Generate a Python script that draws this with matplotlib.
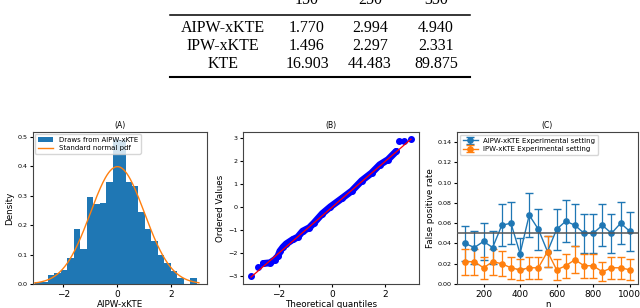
#!/usr/bin/env python3
"""
plot.py — timing table on top, three diagnostic panels below:
  (A) histogram of AIPW-xKTE draws vs standard normal pdf
  (B) normal Q-Q plot of the same draws
  (C) false positive rate vs n for AIPW-/IPW-xKTE
"""

import numpy as np
import matplotlib
matplotlib.use("Agg")
import matplotlib.pyplot as plt
import matplotlib.lines as mlines

# ── table ─────────────────────────────────────────────────────────────────────
TABLE_COLS = ["150", "250", "350"]
TABLE_ROWS = ["AIPW-xKTE", "IPW-xKTE", "KTE"]
TABLE_VALS = [["1.770", "2.994", "4.940"],
              ["1.496", "2.297", "2.331"],
              ["16.903", "44.483", "89.875"]]

# ── (A) histogram (density per bin) ───────────────────────────────────────────
HIST_RANGE = (-3.06, 2.94)
HIST_DENSITY = [0.008, 0.008, 0.030, 0.038, 0.047, 0.089, 0.187, 0.118,
                0.294, 0.272, 0.276, 0.345, 0.492, 0.490, 0.345, 0.333,
                0.245, 0.187, 0.147, 0.098, 0.072, 0.043, 0.022, 0.0,
                0.022]
PDF_RANGE = (-3.09, 3.02)

# ── (B) Q-Q plot ──────────────────────────────────────────────────────────────
QQ_THEORETICAL = [-3.05, -2.77, -2.58, -2.33, -2.15, -2.03, -1.96, -1.84,
                  -1.72, -1.47, -1.29, -1.10, -0.85, -0.67, -0.36, -0.05,
                  0.39, 0.76, 1.13, 1.50, 1.81, 2.12, 2.43,
                  2.55, 2.71, 2.99]
QQ_ORDERED = [-3.00, -2.61, -2.45, -2.42, -2.28, -2.13, -1.92, -1.74,
              -1.60, -1.41, -1.31, -1.05, -0.90, -0.69, -0.29, 0.01,
              0.38, 0.70, 1.14, 1.47, 1.83, 2.05, 2.41,
              2.84, 2.88, 2.95]
QQ_SLOPE = 0.99
QQ_INTERCEPT = -0.02

# ── (C) false positive rate ───────────────────────────────────────────────────
N_VALUES = [100, 150, 200, 250, 300, 350, 400, 450, 500, 550,
            600, 650, 700, 750, 800, 850, 900, 950, 1000]
AIPW_FPR = [0.040, 0.036, 0.042, 0.036, 0.058, 0.060, 0.030, 0.068, 0.054, 0.032,
            0.054, 0.062, 0.058, 0.050, 0.050, 0.058, 0.050, 0.060, 0.052]
AIPW_ERR = [0.017, 0.0165, 0.018, 0.0165, 0.0205, 0.021, 0.015, 0.022, 0.020, 0.0155,
            0.020, 0.021, 0.0205, 0.019, 0.019, 0.0205, 0.019, 0.021, 0.0195]
IPW_FPR = [0.022, 0.022, 0.016, 0.022, 0.020, 0.016, 0.014, 0.016, 0.016, 0.032,
           0.014, 0.018, 0.024, 0.018, 0.018, 0.012, 0.016, 0.016, 0.014]
IPW_ERR = [0.013, 0.013, 0.011, 0.013, 0.0125, 0.011, 0.0105, 0.011, 0.011, 0.0155,
           0.0105, 0.012, 0.0135, 0.012, 0.012, 0.0095, 0.011, 0.011, 0.0105]
ALPHA = 0.05

BLUE = "#1f77b4"
ORANGE = "#ff7f0e"

FS_TITLE = 5.5
FS_LABEL = 6.3
FS_XTICK = 6.5
FS_YTICK = 4.6
FS_LEGEND = 5.0
FS_TABLE = 11.5

W, H = 640, 308


def px_rect(x0, x1, y0, y1):
    """pixel box (left, right, top, bottom) -> figure fraction rect"""
    return [x0 / W, 1 - y1 / H, (x1 - x0) / W, (y1 - y0) / H]


def style(ax, title, xlabel, ylabel):
    ax.set_title(title, fontsize=FS_TITLE, pad=3)
    ax.set_xlabel(xlabel, fontsize=FS_LABEL, labelpad=1)
    ax.set_ylabel(ylabel, fontsize=FS_LABEL, labelpad=2)
    ax.tick_params(axis="x", labelsize=FS_XTICK, length=2.5, pad=1.5)
    ax.tick_params(axis="y", labelsize=FS_YTICK, length=2.5, pad=1.5)
    for sp in ax.spines.values():
        sp.set_linewidth(0.8)
        sp.set_color("#444444")


def draw_table(fig):
    serif = ["Liberation Serif", "DejaVu Serif"]
    col_x = [307, 370, 436]
    label_x = 223
    # header row sits mostly above the top edge, as in the source crop
    for x, c in zip(col_x, TABLE_COLS):
        fig.text(x / W, 1 - 4 / H, c, ha="center", va="baseline",
                 fontsize=FS_TABLE, family=serif)
    for i, (name, vals) in enumerate(zip(TABLE_ROWS, TABLE_VALS)):
        y = 1 - (32.5 + 18 * i) / H
        fig.text(label_x / W, y, name, ha="center", va="baseline",
                 fontsize=FS_TABLE, family=serif)
        for x, v in zip(col_x, vals):
            fig.text(x / W, y, v, ha="center", va="baseline",
                     fontsize=FS_TABLE, family=serif)
    for y, lw in [(15, 1.1), (77, 1.5)]:
        fig.add_artist(mlines.Line2D([170 / W, 470 / W], [1 - y / H, 1 - y / H],
                                     color="black", linewidth=lw))


def main():
    fig = plt.figure(figsize=(W / 100, H / 100), dpi=100)
    draw_table(fig)

    # ── (A) histogram ─────────────────────────────────────────────────────────
    ax = fig.add_axes(px_rect(33, 207, 132, 284))
    edges = np.linspace(HIST_RANGE[0], HIST_RANGE[1], len(HIST_DENSITY) + 1)
    centers = (edges[:-1] + edges[1:]) / 2
    ax.hist(centers, bins=edges, weights=HIST_DENSITY, color=BLUE,
            label="Draws from AIPW-xKTE")
    xs = np.linspace(PDF_RANGE[0], PDF_RANGE[1], 200)
    ax.plot(xs, np.exp(-xs ** 2 / 2) / np.sqrt(2 * np.pi), color=ORANGE,
            linewidth=1.0, label="Standard normal pdf")
    ax.set_xlim(-3.13, 3.32)
    ax.set_yticks([0.0, 0.1, 0.2, 0.3, 0.4, 0.5])
    style(ax, "(A)", "AIPW-xKTE", "Density")
    ax.legend(loc="upper left", fontsize=FS_LEGEND, borderaxespad=0.3,
              handlelength=2.2, labelspacing=0.3)

    # ── (B) Q-Q plot ──────────────────────────────────────────────────────────
    ax = fig.add_axes(px_rect(243, 419, 132, 284))
    ax.plot(QQ_THEORETICAL[2:23], QQ_ORDERED[2:23], color="blue",
            linewidth=5.0, solid_capstyle="round", solid_joinstyle="round")
    ax.plot(QQ_THEORETICAL, QQ_ORDERED, "o", color="blue", markersize=4.0)
    qx = np.array([QQ_THEORETICAL[0], QQ_THEORETICAL[-1]])
    ax.plot(qx, QQ_SLOPE * qx + QQ_INTERCEPT, color="red", linewidth=0.9)
    ax.set_yticks([-3, -2, -1, 0, 1, 2, 3])
    ax.set_xticks([-2, 0, 2])
    style(ax, "(B)", "Theoretical quantiles", "Ordered Values")

    # ── (C) false positive rate ───────────────────────────────────────────────
    ax = fig.add_axes(px_rect(457, 638, 132, 284))
    ax.errorbar(N_VALUES, AIPW_FPR, yerr=AIPW_ERR, color=BLUE, marker="o",
                markersize=3.8, linewidth=1.0, elinewidth=0.9, capsize=2.6,
                label="AIPW-xKTE Experimental setting")
    ax.errorbar(N_VALUES, IPW_FPR, yerr=IPW_ERR, color=ORANGE, marker="o",
                markersize=3.8, linewidth=1.0, elinewidth=0.9, capsize=2.6,
                label="IPW-xKTE Experimental setting")
    ax.axhline(ALPHA, color="#555555", linewidth=1.1, zorder=5)
    ax.set_ylim(0, 0.15)
    ax.set_yticks([0.00, 0.02, 0.04, 0.06, 0.08, 0.10, 0.12, 0.14])
    ax.set_xticks([200, 400, 600, 800, 1000])
    style(ax, "(C)", "n", "False positive rate")
    ax.legend(loc="upper left", fontsize=FS_LEGEND, borderaxespad=0.4,
              handlelength=2.2, labelspacing=0.35)

    fig.savefig("out.png", dpi=100)


if __name__ == "__main__":
    main()
